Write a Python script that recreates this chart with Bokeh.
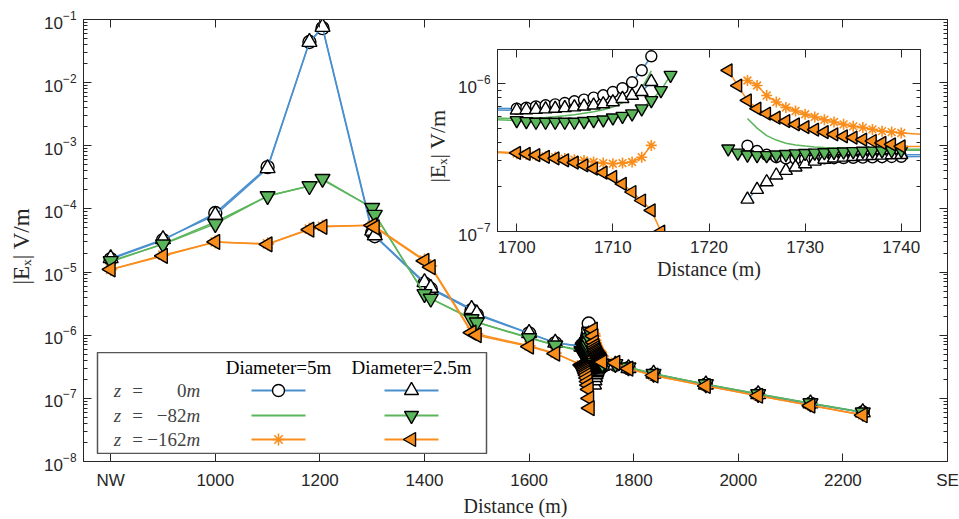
import math
from bokeh.plotting import figure
from bokeh.models import (Range1d, FixedTicker, LogTickFormatter, LinearAxis, LogAxis,
                          CustomJSTickFormatter, Label)
from bokeh.layouts import column
from bokeh.embed import file_html
from bokeh.resources import INLINE

nan = float("nan")

# ---------------- data ----------------
coarse_x = [800, 900, 1000, 1100, 1180, 1205, 1300, 1305, 1400, 1412, 1490, 1500, 1600, 1650]
far_x = [1765, 1790, 1838, 1938, 2038, 2138, 2238]
left_x15 = [1700, 1701, 1702, 1703, 1704, 1705, 1706, 1707, 1708, 1709, 1710, 1711, 1712, 1713, 1714]
left_x17 = [1700, 1701, 1702, 1703, 1704, 1705, 1706, 1707, 1708, 1709, 1710, 1711, 1712, 1713, 1714, 1715, 1716]
right_x17 = [1724, 1725, 1726, 1727, 1728, 1729, 1730, 1731, 1732, 1733, 1734, 1735, 1736, 1737, 1738, 1739, 1740]
right_x19 = [1722, 1723, 1724, 1725, 1726, 1727, 1728, 1729, 1730, 1731, 1732, 1733, 1734, 1735, 1736, 1737, 1738, 1739, 1740]

# z = 0 m, diameter 5 m (circles)
z0_d5_coarse = [1.6e-5, 3.2e-5, 8.6e-5, 4.6e-4, 4.4e-2, 7.3e-2, 4.2e-5, 3.7e-5, 6.6e-6, 5.4e-6, 2.5e-6, 2.1e-6, 1.07e-6, 7.5e-7]
z0_d5_left = [6.77e-7, 6.87e-7, 7.0e-7, 7.13e-7, 7.24e-7, 7.39e-7, 7.59e-7, 7.79e-7, 8.04e-7, 8.33e-7, 8.77e-7, 9.3e-7, 1.02e-6, 1.23e-6, 1.53e-6]
z0_d5_right = [3.8e-7, 3.5e-7, 3.3e-7, 3.18e-7, 3.12e-7, 3.1e-7, 3.1e-7, 3.11e-7, 3.12e-7, 3.13e-7, 3.14e-7, 3.15e-7, 3.16e-7, 3.17e-7, 3.18e-7, 3.19e-7, 3.2e-7]
z0_d5_far = [3.4e-7, 3.0e-7, 2.4e-7, 1.65e-7, 1.15e-7, 8.2e-8, 6.0e-8]

# z = 0 m, diameter 2.5 m (triangles up)
z0_d25_coarse = [1.65e-5, 3.3e-5, 8.0e-5, 4.4e-4, 4.4e-2, 7.6e-2, 4.5e-5, 3.8e-5, 6.9e-6, 5.6e-6, 2.6e-6, 2.2e-6, 1.08e-6, 7.6e-7]
z0_d25_left = [6.6e-7, 6.63e-7, 6.67e-7, 6.72e-7, 6.78e-7, 6.85e-7, 6.93e-7, 7.02e-7, 7.13e-7, 7.27e-7, 7.5e-7, 7.9e-7, 8.3e-7, 8.8e-7, 1.03e-6]
z0_d25_right = [1.65e-7, 1.92e-7, 2.16e-7, 2.4e-7, 2.58e-7, 2.72e-7, 2.86e-7, 2.98e-7, 3.07e-7, 3.13e-7, 3.17e-7, 3.2e-7, 3.23e-7, 3.25e-7, 3.27e-7, 3.29e-7, 3.3e-7]
z0_d25_far = [3.4e-7, 3.0e-7, 2.45e-7, 1.65e-7, 1.16e-7, 8.3e-8, 6.0e-8]

# z = -82 m, diameter 5 m (line only)
z82_d5_coarse = [1.45e-5, 2.8e-5, 6.2e-5, 1.6e-4, 2.3e-4, 2.9e-4, 1.05e-4, 8.3e-5, 4.5e-6, 3.8e-6, 1.85e-6, 1.6e-6, 9.2e-7, 7.0e-7]
z82_d5_left = [5.8e-7, 5.82e-7, 5.86e-7, 5.9e-7, 5.96e-7, 6.05e-7, 6.15e-7, 6.3e-7, 6.45e-7, 6.65e-7, 6.95e-7, 7.4e-7, 8.1e-7, 9.3e-7, 1.22e-6]
z82_d5_right = [5.8e-7, 5.0e-7, 4.45e-7, 4.15e-7, 3.95e-7, 3.85e-7, 3.78e-7, 3.73e-7, 3.7e-7, 3.68e-7, 3.66e-7, 3.65e-7, 3.64e-7, 3.63e-7, 3.62e-7, 3.62e-7, 3.61e-7]
z82_d5_far = [3.5e-7, 3.1e-7, 2.45e-7, 1.68e-7, 1.18e-7, 8.4e-8, 6.1e-8]

# z = -82 m, diameter 2.5 m (triangles down)
z82_d25_coarse = [1.5e-5, 2.75e-5, 5.8e-5, 1.6e-4, 2.3e-4, 3.0e-4, 1.04e-4, 8.1e-5, 4.5e-6, 3.8e-6, 1.8e-6, 1.6e-6, 9.0e-7, 6.9e-7]
z82_d25_left = [5.64e-7, 5.55e-7, 5.5e-7, 5.5e-7, 5.5e-7, 5.5e-7, 5.5e-7, 5.56e-7, 5.64e-7, 5.7e-7, 5.88e-7, 6.03e-7, 6.26e-7, 6.77e-7, 7.7e-7, 9.0e-7, 1.14e-6]
z82_d25_right = [3.63e-7, 3.4e-7, 3.3e-7, 3.27e-7, 3.27e-7, 3.3e-7, 3.33e-7, 3.36e-7, 3.38e-7, 3.4e-7, 3.42e-7, 3.44e-7, 3.46e-7, 3.48e-7, 3.5e-7, 3.51e-7, 3.52e-7, 3.53e-7, 3.54e-7]
z82_d25_far = [3.5e-7, 3.1e-7, 2.45e-7, 1.68e-7, 1.17e-7, 8.4e-8, 6.0e-8]

# z = -162 m, diameter 5 m (asterisks)
z162_d5_coarse = [1.1e-5, 1.85e-5, 3.0e-5, 2.8e-5, 4.8e-5, 5.3e-5, 5.5e-5, 5.3e-5, 1.55e-5, 1.25e-5, 1.15e-6, 1.05e-6, 6.8e-7, 5.2e-7]
z162_d5_left = [3.36e-7, 3.32e-7, 3.27e-7, 3.22e-7, 3.18e-7, 3.11e-7, 3.06e-7, 3.02e-7, 2.95e-7, 2.9e-7, 2.87e-7, 2.9e-7, 2.95e-7, 3.18e-7, 3.82e-7]
z162_d5_right = [1.05e-6, 9.7e-7, 8.3e-7, 7.5e-7, 6.9e-7, 6.52e-7, 6.2e-7, 5.94e-7, 5.7e-7, 5.5e-7, 5.3e-7, 5.14e-7, 5.04e-7, 4.9e-7, 4.77e-7, 4.7e-7, 4.63e-7]
z162_d5_far = [3.7e-7, 3.0e-7, 2.3e-7, 1.58e-7, 1.1e-7, 7.8e-8, 5.5e-8]

# z = -162 m, diameter 2.5 m (triangles left)
z162_d25_coarse = [1.1e-5, 1.8e-5, 3.0e-5, 2.75e-5, 4.7e-5, 5.2e-5, 5.5e-5, 5.1e-5, 1.5e-5, 1.2e-5, 1.1e-6, 1.0e-6, 6.6e-7, 5.1e-7]
z162_d25_left = [3.4e-7, 3.35e-7, 3.28e-7, 3.2e-7, 3.12e-7, 3.03e-7, 2.92e-7, 2.8e-7, 2.66e-7, 2.5e-7, 2.34e-7, 2.1e-7, 1.85e-7, 1.62e-7, 1.39e-7, 1.0e-7, 7.0e-8]
z162_d25_right = [1.23e-6, 9.7e-7, 7.7e-7, 6.77e-7, 6.26e-7, 5.88e-7, 5.58e-7, 5.3e-7, 5.08e-7, 4.88e-7, 4.7e-7, 4.54e-7, 4.4e-7, 4.31e-7, 4.18e-7, 4.09e-7, 3.98e-7, 3.88e-7, 3.76e-7]
z162_d25_far = [3.65e-7, 2.95e-7, 2.3e-7, 1.57e-7, 1.1e-7, 7.7e-8, 5.4e-8]

x_ticks = [800, 1000, 1200, 1400, 1600, 1800, 2000, 2200, 2400]
x_tick_names = {800: "NW", 2400: "SE"}
inset_x_ticks = [1700, 1710, 1720, 1730, 1740]
row_labels = ["0", "\u221282", "\u2212162"]
col_labels = ["Diameter=5m", "Diameter=2.5m"]
y_label = "|E\u2093|   V/m"

# ---------------- style ----------------
BLUE = "#4a8fcd"
GREEN = "#5bb55b"
ORANGE = "#f98e1d"
AX = "#262626"
SANS = "Liberation Sans"
SERIF = "Liberation Serif"
# all figures share the same left/right borders (a column aligns them)
BL, BR = 83, 12


def build(xc, lx, rx, xf, yc, ly, ry, yf):
    return xc + lx + [nan] + rx + xf, yc + ly + [nan] + ry + yf


S = [
    build(coarse_x, left_x15, right_x17, far_x, z0_d5_coarse, z0_d5_left, z0_d5_right, z0_d5_far) + (BLUE, "circle", "white", 0.0),
    build(coarse_x, left_x15, right_x17, far_x, z82_d5_coarse, z82_d5_left, z82_d5_right, z82_d5_far) + (GREEN, None, None, 0.0),
    build(coarse_x, left_x15, right_x17, far_x, z162_d5_coarse, z162_d5_left, z162_d5_right, z162_d5_far) + (ORANGE, "asterisk", None, 0.0),
    build(coarse_x, left_x15, right_x17, far_x, z0_d25_coarse, z0_d25_left, z0_d25_right, z0_d25_far) + (BLUE, "triangle", "white", 0.0),
    build(coarse_x, left_x17, right_x19, far_x, z82_d25_coarse, z82_d25_left, z82_d25_right, z82_d25_far) + (GREEN, "inverted_triangle", GREEN, 0.0),
    build(coarse_x, left_x17, right_x19, far_x, z162_d25_coarse, z162_d25_left, z162_d25_right, z162_d25_far) + (ORANGE, "triangle", ORANGE, math.pi / 2),
]


def draw_series(fig, csize, tsize, lw):
    for xs, ys, color, marker, fill, ang in S:
        fig.line(xs, ys, line_color=color, line_width=lw)
        if marker == "asterisk":
            fig.scatter(xs, ys, marker="asterisk", size=csize, line_color=color, line_width=1.6)
        elif marker is not None:
            sz = csize if marker == "circle" else tsize
            fig.scatter(xs, ys, marker=marker, size=sz, fill_color=fill, line_color="black",
                        line_width=1.4, angle=ang)


def style_axis(ax, size="17px"):
    ax.axis_line_color = AX
    ax.major_tick_line_color = AX
    ax.minor_tick_line_color = AX
    ax.major_tick_in = 8
    ax.major_tick_out = 0
    ax.minor_tick_in = 4
    ax.minor_tick_out = 0
    ax.major_label_text_font = SANS
    ax.major_label_text_font_size = size
    ax.major_label_text_color = AX
    ax.axis_label_text_font = SERIF
    ax.axis_label_text_font_style = "normal"
    ax.axis_label_text_color = AX


def decade_ticks(lo, hi):
    majors = [10.0 ** e for e in range(lo, hi + 1)]
    minors = [k * 10.0 ** e for e in range(lo, hi) for k in range(2, 10)]
    return majors, minors


def box_axes(fig, xt, ymaj, ymin):
    top = LinearAxis(ticker=FixedTicker(ticks=xt, minor_ticks=[]),
                     formatter=CustomJSTickFormatter(code="return ''"))
    style_axis(top)
    top.major_label_standoff = 0
    fig.add_layout(top, "above")
    right = LogAxis(ticker=FixedTicker(ticks=ymaj, minor_ticks=ymin),
                    formatter=CustomJSTickFormatter(code="return ''"))
    style_axis(right)
    right.major_label_standoff = 0
    fig.add_layout(right, "right")


# ---------------- main figure ----------------
p = figure(width=959, height=519, x_range=Range1d(748, 2400), y_range=Range1d(1e-8, 1e-1),
           y_axis_type="log", output_backend="svg", toolbar_location=None,
           min_border_left=BL, min_border_right=BR, min_border_top=19, min_border_bottom=52)
p.xgrid.visible = False
p.ygrid.visible = False
p.outline_line_color = AX

draw_series(p, 13, 15, 1.5)

p.xaxis.ticker = FixedTicker(ticks=x_ticks, minor_ticks=[])
p.xaxis.major_label_overrides = x_tick_names
p.xaxis.axis_label = "Distance (m)"
style_axis(p.xaxis[0])
p.xaxis.major_label_standoff = 9
p.xaxis.axis_label_standoff = 2
p.xaxis.axis_label_text_font_size = "20px"

maj, mnr = decade_ticks(-8, -1)
p.yaxis.ticker = FixedTicker(ticks=maj, minor_ticks=mnr)
p.yaxis.formatter = LogTickFormatter()
p.yaxis.axis_label = y_label
style_axis(p.yaxis[0])
p.yaxis.major_label_standoff = 7
p.yaxis.axis_label_standoff = 7
p.yaxis.axis_label_text_font_size = "23px"
box_axes(p, x_ticks, maj, mnr)

# ---------------- inset ----------------
IFW, IFH = 423, 182  # inset frame size
ins = figure(width=BL + IFW + BR, height=19 + IFH + 59,
             x_range=Range1d(1698, 1742), y_range=Range1d(1e-7, 1.7e-6),
             y_axis_type="log", output_backend="svg", toolbar_location=None,
             min_border_left=BL, min_border_right=BR, min_border_top=19, min_border_bottom=59)
ins.xgrid.visible = False
ins.ygrid.visible = False
ins.border_fill_alpha = 0
ins.background_fill_color = "white"
ins.outline_line_color = AX
draw_series(ins, 11, 13, 1.5)

ins.xaxis.ticker = FixedTicker(ticks=inset_x_ticks, minor_ticks=[])
ins.xaxis.axis_label = "Distance (m)"
style_axis(ins.xaxis[0])
ins.xaxis.major_label_standoff = 9
ins.xaxis.axis_label_standoff = 2
ins.xaxis.axis_label_text_font_size = "20px"

imaj, imnr = decade_ticks(-7, -6)
ins.yaxis.ticker = FixedTicker(ticks=imaj, minor_ticks=imnr[:8])
ins.yaxis.formatter = LogTickFormatter()
ins.yaxis.axis_label = y_label
style_axis(ins.yaxis[0])
ins.yaxis.major_label_standoff = 7
ins.yaxis.axis_label_standoff = 5
ins.yaxis.axis_label_text_font_size = "22px"
box_axes(ins, inset_x_ticks, imaj, imnr[:8])
ins.styles = {"position": "absolute", "left": f"{497 - BL}px", "top": "30px"}

# ---------------- legend box ----------------
LW, LH = 389, 102
lg = figure(width=BL + LW + BR, height=LH, x_range=Range1d(0, LW), y_range=Range1d(LH, 0),
            output_backend="svg", toolbar_location=None,
            min_border_left=BL, min_border_right=BR, min_border_top=0, min_border_bottom=0,
            x_axis_type=None, y_axis_type=None)
lg.xgrid.visible = False
lg.ygrid.visible = False
lg.outline_line_color = "#555555"
lg.outline_line_width = 1.5
lg.background_fill_color = "white"
lg.border_fill_alpha = 0

row_y = [38, 63, 87]
col_x = [181, 314]
for j, txt in enumerate(col_labels):
    lg.add_layout(Label(x=col_x[j], y=15, text=txt, text_font=SERIF, text_font_size="19px",
                        text_align="center", text_baseline="middle", text_color="black"))
for i, num in enumerate(row_labels):
    yy = row_y[i]
    lg.add_layout(Label(x=20, y=yy, text="z", text_font=SERIF, text_font_style="italic",
                        text_font_size="19px", text_align="center", text_baseline="middle"))
    lg.add_layout(Label(x=40, y=yy, text="=", text_font=SERIF, text_font_size="19px",
                        text_align="center", text_baseline="middle"))
    lg.add_layout(Label(x=89, y=yy, text=num, text_font=SERIF, text_font_size="19px",
                        text_align="right", text_baseline="middle"))
    lg.add_layout(Label(x=89, y=yy, text="m", text_font=SERIF, text_font_style="italic",
                        text_font_size="19px", text_align="left", text_baseline="middle"))

leg_items = [
    (0, 0, BLUE, "circle", "white", 0.0),
    (0, 1, GREEN, None, None, 0.0),
    (0, 2, ORANGE, "asterisk", None, 0.0),
    (1, 0, BLUE, "triangle", "white", 0.0),
    (1, 1, GREEN, "inverted_triangle", GREEN, 0.0),
    (1, 2, ORANGE, "triangle", ORANGE, math.pi / 2),
]
for c, r, color, marker, fill, ang in leg_items:
    cx, cy = col_x[c], row_y[r]
    lg.line([cx - 27, cx + 27], [cy, cy], line_color=color, line_width=1.8)
    if marker == "asterisk":
        lg.scatter([cx], [cy], marker="asterisk", size=12, line_color=color, line_width=1.6)
    elif marker is not None:
        lg.scatter([cx], [cy], marker=marker, size=12 if marker == "circle" else 14,
                   fill_color=fill, line_color="black", line_width=1.4, angle=ang)
lg.styles = {"position": "absolute", "left": f"{97 - BL}px", "top": "352px"}

layout = column(p, ins, lg)
open("out.html", "w").write(file_html(layout, INLINE))
